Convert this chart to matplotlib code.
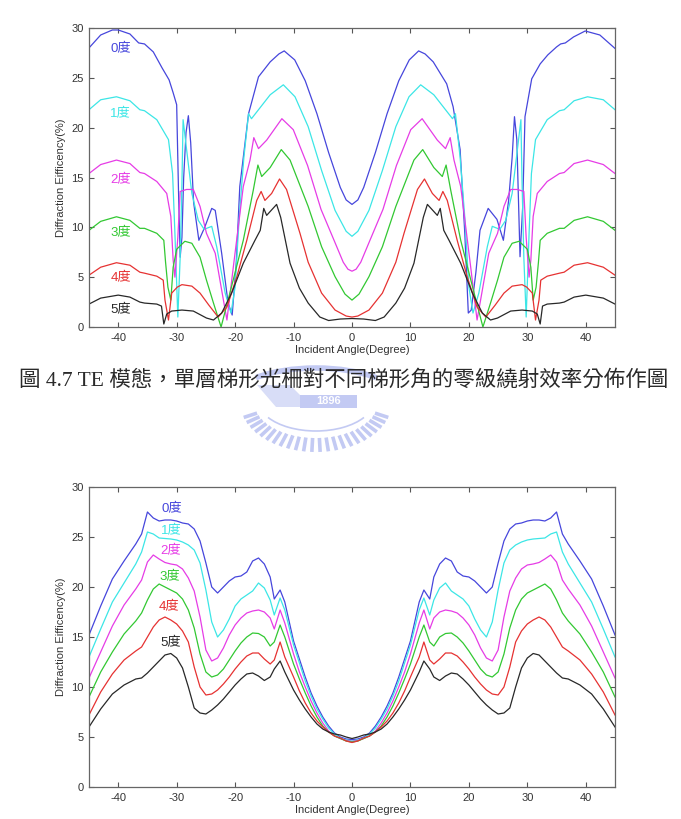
import numpy as np
import matplotlib
matplotlib.use('Agg')
import matplotlib.pyplot as plt
from matplotlib.patches import Arc, Rectangle, Polygon

plt.rcParams['font.family'] = ['Liberation Sans', 'Noto Sans CJK TC']
plt.rcParams['axes.unicode_minus'] = False

x_ticks = [-40, -30, -20, -10, 0, 10, 20, 30, 40]
y_ticks = [0, 5, 10, 15, 20, 25, 30]
labels = ['0度', '1度', '2度', '3度', '4度', '5度']
colors = ['#4646dc', '#3ce6e6', '#e63ce6', '#32c832', '#e63232', '#282828']

# ---- top chart: efficiency vs angle for each trapezoid angle ----
top_x0 = [-45, -43, -41, -40, -38, -36.5, -35.5, -34, -32.5, -31.3, -30.6, -30.0, -29.7, -29.4, -29.1,
          -28.8, -28.4, -28.0, -27.6, -27.1, -26.2, -25.2, -24.0, -23.4, -22.3, -21.2, -20.5, -19.8,
          -19.2, -17.7, -16.0, -14.0, -12.5, -11.6, -9.8, -8.0, -6.0, -4.0, -2.0, -1.0, 0,
          1.0, 2.0, 4.0, 6.0, 8.0, 9.8, 11.4, 12.5, 13.9, 16.2, 17.3, 18.5, 19.3, 19.9, 20.4, 21.2, 21.9,
          23.3, 24.8, 25.9, 26.8, 27.4, 27.8, 28.2, 28.75, 29.2, 29.6, 30.75, 32.2, 33.5, 35.0, 35.7,
          36.5, 37.9, 39.9, 42.4, 45.0]
top_y0 = [28.0, 29.3, 29.8, 29.8, 29.4, 28.5, 28.4, 27.6, 26.0, 24.8, 23.5, 22.3, 14.0, 7.0, 9.0,
          15.0, 19.5, 21.2, 18.5, 12.5, 8.7, 10.0, 11.9, 11.7, 7.4, 2.4, 1.2, 6.5,
          14.1, 21.4, 25.1, 26.6, 27.4, 27.7, 26.8, 24.7, 21.4, 17.5, 14.0, 12.75, 12.3,
          12.75, 14.0, 17.5, 21.4, 24.7, 26.8, 27.7, 27.4, 26.6, 24.4, 22.1, 17.8, 9.4, 1.4, 1.7, 5.5, 9.7,
          11.9, 10.8, 8.7, 12.7, 17.0, 21.1, 18.8, 7.05, 12.0, 21.1, 24.9, 26.4, 27.3, 28.1, 28.4,
          28.5, 29.1, 29.7, 29.3, 27.95]

top_x1 = [-45, -43, -40.3, -38, -36.3, -35.5, -33.4, -31.4, -30.7, -30.3, -29.8, -29.4, -29.1, -28.9,
          -28.3, -27.4, -26.3, -25.3, -24.0, -23.15, -21.7, -20.7, -20.0, -19.3, -18.5, -17.7, -17.2,
          -16.0, -14.0, -11.75, -9.75, -7.5, -5.2, -2.9, -1.0, 0,
          1.0, 2.9, 5.2, 7.5, 9.75, 11.75, 14.0, 16.0, 17.2, 17.7, 18.5, 19.3, 20.0, 20.7, 21.7, 23.15,
          24.0, 25.3, 26.3, 27.4, 28.3, 28.9, 29.1, 29.4, 29.8, 30.3, 30.7, 31.4, 33.4, 35.5, 36.3, 38,
          40.3, 43, 45]
top_y1 = [21.8, 22.8, 23.1, 22.7, 21.8, 21.7, 20.8, 18.8, 15.4, 9.4, 1.0, 7.0, 14.4, 20.8,
          17.8, 13.4, 10.7, 9.8, 10.1, 8.05, 3.4, 1.4, 4.0, 11.0, 17.0, 21.4, 20.9,
          21.8, 23.3, 24.3, 23.1, 20.1, 15.7, 11.7, 9.6, 9.1,
          9.6, 11.7, 15.7, 20.1, 23.1, 24.3, 23.3, 21.8, 20.9, 21.4, 17.0, 11.0, 4.0, 1.4, 3.4, 8.05,
          10.1, 9.8, 10.7, 13.4, 17.8, 20.8, 14.4, 7.0, 1.0, 9.4, 15.4, 18.8, 20.8, 21.7, 21.8, 22.7,
          23.1, 22.8, 21.8]

top_x2 = [-45, -43, -40.3, -38, -36.3, -35.5, -33.4, -31.7, -31.0, -30.6, -30.3, -29.8, -29.4, -28.3,
          -27.15, -26.0, -24.9, -23.4, -22.3, -21.4, -20.3, -18.6, -17.45, -16.8, -16.0, -14.6, -12.0,
          -10.05, -7.6, -5.3, -3.0, -1.5, -0.7, 0,
          0.7, 1.5, 3.0, 5.3, 7.6, 10.05, 12.0, 14.6, 16.0, 16.8, 17.45, 18.6, 20.3, 21.4, 22.3, 23.4, 24.9,
          26.0, 27.15, 28.3, 29.4, 29.8, 30.3, 30.6, 31.0, 31.7, 33.4, 35.5, 36.3, 38, 40.3, 43, 45]
top_y2 = [15.4, 16.3, 16.75, 16.4, 15.5, 15.4, 14.6, 13.4, 11.1, 6.7, 5.0, 9.0, 13.6, 13.8,
          13.8, 12.1, 9.4, 7.4, 3.7, 0.7, 6.05, 14.1, 16.75, 19.0, 17.9, 18.75, 20.9,
          19.8, 16.2, 11.8, 8.6, 6.5, 5.8, 5.6,
          5.8, 6.5, 8.6, 11.8, 16.2, 19.8, 20.9, 18.75, 17.9, 19.0, 16.75, 14.1, 6.05, 0.7, 3.7, 7.4, 9.4,
          12.1, 13.8, 13.8, 13.6, 9.0, 5.0, 6.7, 11.1, 13.4, 14.6, 15.4, 15.5, 16.4, 16.75, 16.3, 15.4]

top_x3 = [-45, -43, -40.3, -38, -36.3, -35.5, -33.4, -32.2, -31.9, -31.5, -31.0, -30.6, -30.0, -28.6,
          -27.4, -26.0, -24.9, -23.7, -22.4, -20.9, -18.6, -16.9, -16.1, -15.45, -14.0, -12.1, -10.6,
          -7.5, -5.2, -2.9, -1.2, 0,
          1.2, 2.9, 5.2, 7.5, 10.6, 12.1, 14.0, 15.45, 16.1, 16.9, 18.6, 20.9, 22.4, 23.7, 24.9, 26.0,
          27.4, 28.6, 30.0, 30.6, 31.0, 31.5, 31.9, 32.2, 33.4, 35.5, 36.3, 38, 40.3, 43, 45]
top_y3 = [9.7, 10.6, 11.06, 10.7, 9.9, 9.9, 9.4, 8.7, 6.5, 4.0, 2.7, 6.0, 7.8, 8.6,
          8.4, 7.0, 4.7, 2.4, 0.0, 3.4, 8.7, 13.7, 16.25, 15.1, 16.0, 17.8, 16.75,
          12.1, 8.05, 5.05, 3.3, 2.7,
          3.3, 5.05, 8.05, 12.1, 16.75, 17.8, 16.0, 15.1, 16.25, 13.7, 8.7, 3.4, 0.0, 2.4, 4.7, 7.0,
          8.4, 8.6, 7.8, 6.0, 2.7, 4.0, 6.5, 8.7, 9.4, 9.9, 9.9, 10.7, 11.06, 10.6, 9.7]

top_x4 = [-45, -43, -40.3, -38, -36.3, -35.5, -33.4, -32.3, -32.0, -31.4, -30.85, -29.9, -29.1, -27.4,
          -26.0, -24.5, -22.9, -21.4, -19.7, -18.0, -16.3, -15.55, -14.9, -13.75, -12.4, -11.2, -8.9,
          -7.5, -5.2, -2.9, -1.0, 0,
          1.0, 2.9, 5.2, 7.5, 8.9, 11.2, 12.4, 13.75, 14.9, 15.55, 16.3, 18.0, 19.7, 21.4, 22.9, 24.5,
          26.0, 27.4, 29.1, 29.9, 30.85, 31.4, 32.0, 32.3, 33.4, 35.5, 36.3, 38, 40.3, 43, 45]
top_y4 = [5.2, 6.0, 6.45, 6.2, 5.5, 5.4, 5.1, 4.7, 2.7, 0.7, 3.4, 4.0, 4.25, 4.1,
          3.4, 2.2, 1.0, 2.0, 5.05, 8.7, 12.7, 13.6, 12.7, 13.4, 14.85, 13.8, 9.4,
          6.5, 3.4, 1.7, 1.1, 1.0,
          1.1, 1.7, 3.4, 6.5, 9.4, 13.8, 14.85, 13.4, 12.7, 13.6, 12.7, 8.7, 5.05, 2.0, 1.0, 2.2,
          3.4, 4.1, 4.25, 4.0, 3.4, 0.7, 2.7, 4.7, 5.1, 5.4, 5.5, 6.2, 6.45, 6.0, 5.2]

top_x5 = [-45, -43, -40, -38, -36.3, -35.5, -33.4, -32.6, -32.2, -31.7, -30.85, -29.1, -27.15, -24.9,
          -23.7, -22.3, -20.6, -18.6, -16.6, -15.7, -15.1, -14.6, -12.9, -12.2, -10.6, -9.0, -7.5,
          -5.5, -4.0, -2.0, 0,
          2.0, 4.0, 5.5, 7.5, 9.0, 10.6, 12.2, 12.9, 14.6, 15.1, 15.7, 16.6, 18.6, 20.6, 22.3, 23.7,
          24.9, 27.15, 29.1, 30.85, 31.7, 32.2, 32.6, 33.4, 35.5, 36.3, 38, 40, 43, 45]
top_y5 = [2.3, 2.9, 3.2, 3.0, 2.5, 2.4, 2.3, 2.1, 0.3, 1.3, 1.6, 1.7, 1.6, 0.9,
          0.7, 1.4, 3.4, 6.4, 8.7, 9.7, 11.9, 11.2, 12.3, 11.0, 6.4, 3.9, 2.4,
          1.0, 0.65, 0.8, 0.85,
          0.8, 0.65, 1.0, 2.4, 3.9, 6.4, 11.0, 12.3, 11.2, 11.9, 9.7, 8.7, 6.4, 3.4, 1.4, 0.7,
          0.9, 1.6, 1.7, 1.6, 1.3, 0.3, 2.1, 2.3, 2.4, 2.5, 3.0, 3.2, 2.9, 2.3]

top_xs = [top_x0, top_x1, top_x2, top_x3, top_x4, top_x5]
top_ys = [top_y0, top_y1, top_y2, top_y3, top_y4, top_y5]
top_label_x = [-39.6, -39.6, -39.6, -39.6, -39.6, -39.6]
top_label_y = [27.85, 21.3, 14.75, 9.45, 4.9, 1.7]

# ---- bottom chart ----
bot_x = [-45, -43, -41, -39, -37, -36, -35, -34, -33, -32, -31, -30, -29, -28, -27, -26, -25, -24,
         -23, -22, -21, -20, -19, -18, -17, -16, -15, -14, -13.3, -12.3, -11.5, -10, -9, -8, -7, -6,
         -5, -4, -3, -2, -1, 0, 1, 2, 3, 4, 5, 6, 7, 8, 9, 10, 11.5, 12.3, 13.3, 14, 15, 16, 17, 18,
         19, 20, 21, 22, 23, 24, 25, 26, 27, 28, 29, 30, 31, 32, 33, 34, 35, 36, 37, 39, 41, 43, 45]
bot_y0 = [15.2, 18.1, 20.8, 22.6, 24.3, 25.3, 27.5, 26.9, 26.6, 26.7, 26.7, 26.6, 26.4, 26.3, 25.8,
          24.6, 22.4, 20.0, 19.4, 20.0, 20.6, 21.0, 21.1, 21.5, 22.6, 22.9, 22.3, 21.0, 18.8, 19.7,
          18.5, 14.6, 12.8, 11.0, 9.4, 8.1, 7.0, 6.1, 5.4, 5.0, 4.8, 4.75,
          4.8, 5.0, 5.4, 6.1, 7.0, 8.1, 9.4, 11.0, 12.8, 14.6, 18.5, 19.7, 18.8, 21.0, 22.3, 22.9,
          22.6, 21.5, 21.1, 21.0, 20.6, 20.0, 19.4, 20.0, 22.4, 24.6, 25.8, 26.3, 26.4, 26.6, 26.7,
          26.7, 26.6, 26.9, 27.5, 25.3, 24.3, 22.6, 20.8, 18.1, 15.2]
bot_y1 = [13.0, 15.8, 18.5, 20.4, 22.3, 23.5, 25.5, 25.3, 24.9, 24.85, 24.8, 24.7, 24.5, 24.2, 23.7,
          22.4, 19.7, 16.5, 15.0, 15.7, 16.8, 18.1, 18.8, 19.2, 19.6, 20.4, 19.9, 18.7, 17.2, 18.9,
          17.7, 14.2, 12.4, 10.6, 9.1, 7.8, 6.8, 5.9, 5.3, 4.9, 4.7, 4.6,
          4.7, 4.9, 5.3, 5.9, 6.8, 7.8, 9.1, 10.6, 12.4, 14.2, 17.7, 18.9, 17.2, 18.7, 19.9, 20.4,
          19.6, 19.2, 18.8, 18.1, 16.8, 15.7, 15.0, 16.5, 19.7, 22.4, 23.7, 24.2, 24.5, 24.7, 24.8,
          24.85, 24.9, 25.3, 25.5, 23.5, 22.3, 20.4, 18.5, 15.8, 13.0]
bot_y2 = [10.9, 13.5, 16.1, 18.2, 19.8, 20.7, 22.5, 23.2, 22.8, 22.45, 22.3, 22.2, 21.8, 20.9, 19.6,
          17.0, 13.7, 12.6, 12.9, 13.9, 15.2, 16.2, 16.9, 17.4, 17.6, 17.7, 17.5, 16.9, 15.8, 17.7,
          16.4, 13.3, 11.5, 10.0, 8.6, 7.4, 6.4, 5.6, 5.1, 4.85, 4.65, 4.55,
          4.65, 4.85, 5.1, 5.6, 6.4, 7.4, 8.6, 10.0, 11.5, 13.3, 16.4, 17.7, 15.8, 16.9, 17.5, 17.7,
          17.6, 17.4, 16.9, 16.2, 15.2, 13.9, 12.9, 12.6, 13.7, 17.0, 19.6, 20.9, 21.8, 22.2, 22.3,
          22.45, 22.8, 23.2, 22.5, 20.7, 19.8, 18.2, 16.1, 13.5, 10.9]
bot_y3 = [9.0, 11.5, 13.5, 15.3, 16.6, 17.4, 18.7, 19.8, 20.3, 20.0, 19.7, 19.4, 18.8, 17.7, 15.9,
          13.3, 11.5, 11.0, 11.2, 11.8, 12.7, 13.6, 14.4, 15.0, 15.4, 15.35, 15.0, 14.1, 14.5, 16.2,
          15.0, 12.3, 10.8, 9.4, 8.1, 7.0, 6.1, 5.5, 5.1, 4.85, 4.6, 4.5,
          4.6, 4.85, 5.1, 5.5, 6.1, 7.0, 8.1, 9.4, 10.8, 12.3, 15.0, 16.2, 14.5, 14.1, 15.0, 15.35,
          15.4, 15.0, 14.4, 13.6, 12.7, 11.8, 11.2, 11.0, 11.5, 13.3, 15.9, 17.7, 18.8, 19.4, 19.7,
          20.0, 20.3, 19.8, 18.7, 17.4, 16.6, 15.3, 13.5, 11.5, 9.0]
bot_y4 = [7.2, 9.5, 11.3, 12.7, 13.6, 14.0, 15.0, 16.0, 16.7, 17.0, 16.7, 16.3, 15.6, 14.5, 12.0,
          10.0, 9.2, 9.3, 9.7, 10.3, 11.0, 11.8, 12.5, 13.1, 13.4, 13.4, 12.8, 12.3, 12.7, 14.5,
          13.0, 11.0, 9.6, 8.4, 7.4, 6.6, 6.0, 5.5, 5.1, 4.9, 4.6, 4.45,
          4.6, 4.9, 5.1, 5.5, 6.0, 6.6, 7.4, 8.4, 9.6, 11.0, 13.0, 14.5, 12.7, 12.3, 12.8, 13.4,
          13.4, 13.1, 12.5, 11.8, 11.0, 10.3, 9.7, 9.3, 9.2, 10.0, 12.0, 14.5, 15.6, 16.3, 16.7,
          17.0, 16.7, 16.0, 15.0, 14.0, 13.6, 12.7, 11.3, 9.5, 7.2]
bot_y5 = [6.0, 7.8, 9.3, 10.2, 10.8, 10.9, 11.4, 12.0, 12.6, 13.2, 13.35, 12.9, 11.9, 10.0, 7.9,
          7.4, 7.3, 7.7, 8.2, 8.8, 9.5, 10.2, 10.8, 11.3, 11.4, 11.1, 10.65, 11.0, 11.8, 12.6,
          11.5, 9.7, 8.7, 7.8, 7.0, 6.3, 5.8, 5.5, 5.3, 5.2, 5.0, 4.85,
          5.0, 5.2, 5.3, 5.5, 5.8, 6.3, 7.0, 7.8, 8.7, 9.7, 11.5, 12.6, 11.8, 11.0, 10.65, 11.1,
          11.4, 11.3, 10.8, 10.2, 9.5, 8.8, 8.2, 7.7, 7.3, 7.4, 7.9, 10.0, 11.9, 12.9, 13.35,
          13.2, 12.6, 12.0, 11.4, 10.9, 10.8, 10.2, 9.3, 7.8, 6.0]
bot_ys = [bot_y0, bot_y1, bot_y2, bot_y3, bot_y4, bot_y5]
bot_label_x = [-30.8, -30.9, -31.1, -31.1, -31.3, -31.0]
bot_label_y = [27.8, 25.6, 23.6, 21.0, 18.0, 14.4]

caption = '圖 4.7 TE 模態，單層梯形光柵對不同梯形角的零級繞射效率分佈作圖'

W, H = 681, 819
fig = plt.figure(figsize=(W / 100, H / 100), dpi=100)

# faint watermark behind the caption
bg = fig.add_axes([0, 0, 1, 1], zorder=-1)
bg.set_xlim(0, W)
bg.set_ylim(H, 0)
bg.axis('off')
wm = '#c3caf3'
cx, cy = 316, 402
for t in np.radians(np.linspace(18, 162, 24)):
    bg.plot([cx + 62 * np.cos(t), cx + 76 * np.cos(t)],
            [cy + 36 * np.sin(t), cy + 50 * np.sin(t)],
            color=wm, lw=2.6, solid_capstyle='butt')
bg.add_patch(Arc((cx, cy), 172, 68, theta1=202, theta2=338, color=wm, lw=4))
bg.add_patch(Arc((cx, cy - 2), 116, 62, theta1=20, theta2=160, color=wm, lw=1.2))
bg.add_patch(Polygon([(257, 385), (290, 385), (300, 395), (300, 407), (276, 407)],
                     closed=True, color='#d8ddf7', lw=0))
bg.add_patch(Rectangle((300, 395), 57, 13, color=wm, lw=0))
bg.text(328.5, 401.5, '1896', color='white', fontsize=8, fontweight='bold',
        ha='center', va='center')


def style(ax):
    ax.set_xlim(-45, 45)
    ax.set_ylim(0, 30)
    ax.set_xticks(x_ticks)
    ax.set_yticks(y_ticks)
    ax.tick_params(direction='in', top=True, right=True, length=3.5, width=0.8,
                   color='#555555', labelsize=8, labelcolor='#333333', pad=4)
    for s in ax.spines.values():
        s.set_color('#666666')
        s.set_linewidth(0.9)
    ax.set_xlabel('Incident Angle(Degree)', fontsize=8, color='#333333', labelpad=2)
    ax.set_ylabel('Diffraction Eifficency(%)', fontsize=8, color='#333333', labelpad=4)


ax1 = fig.add_axes([89 / W, 1 - 327 / H, 526 / W, 299 / H])
for xs, ys, c in zip(top_xs, top_ys, colors):
    ax1.plot(xs, ys, color=c, lw=0.9)
for lab, lx, ly, c in zip(labels, top_label_x, top_label_y, colors):
    ax1.text(lx, ly, lab, color=c, fontsize=9.5, ha='center', va='center')
style(ax1)

ax2 = fig.add_axes([89 / W, 1 - 787 / H, 526 / W, 300 / H])
for ys, c in zip(bot_ys, colors):
    ax2.plot(bot_x, ys, color=c, lw=0.9)
for lab, lx, ly, c in zip(labels, bot_label_x, bot_label_y, colors):
    ax2.text(lx, ly, lab, color=c, fontsize=9.5, ha='center', va='center')
style(ax2)

fig.text(344 / W, 1 - 380 / H, caption, fontsize=15.5, color='#2a2a2a', fontweight='light',
         family=['Liberation Serif', 'Noto Sans CJK TC'], ha='center', va='center')

fig.savefig('out.png', dpi=100)
